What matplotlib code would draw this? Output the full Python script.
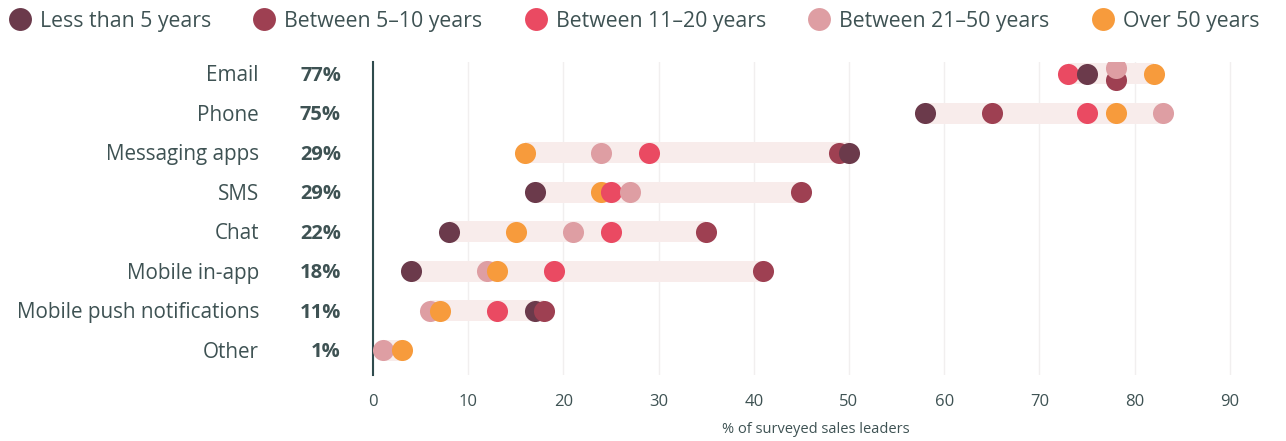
import matplotlib
matplotlib.use('Agg')
import matplotlib.pyplot as plt
import numpy as np
from matplotlib.lines import Line2D
from matplotlib.transforms import ScaledTranslation

# data
channels = ['Email', 'Phone', 'Messaging apps', 'SMS', 'Chat',
            'Mobile in-app', 'Mobile push notifications', 'Other']
overall = ['77%', '75%', '29%', '29%', '22%', '18%', '11%', '1%']
groups = ['Less than 5 years', 'Between 5\u201310 years', 'Between 11\u201320 years',
          'Between 21\u201350 years', 'Over 50 years']

less_5 = [75, 58, 50, 17, 8, 4, 17, np.nan]
btw_5_10 = [78, 65, 49, 45, 35, 41, 18, np.nan]
btw_11_20 = [73, 75, 29, 25, 25, 19, 13, np.nan]
btw_21_50 = [78, 83, 24, 27, 21, 12, 6, 1]
over_50 = [82, 78, 16, 24, 15, 13, 7, 3]

colors = ['#6B3A4B', '#9E4052', '#EA4A62', '#DE9EA3', '#F79B3C']
text_col = '#3E5253'

plt.rcParams['font.family'] = ['Open Sans', 'DejaVu Sans']

series = np.array([less_5, btw_5_10, btw_11_20, btw_21_50, over_50], dtype=float)
ypos = np.arange(len(channels))

fig = plt.figure(figsize=(12.86, 4.41), dpi=100)
ax_left = 373 / 1286
ax_w = 9.52 * 93 / 1286
ax_bottom = (441 - 375) / 441
ax_h = (375 - 62) / 441
ax = fig.add_axes([ax_left, ax_bottom, ax_w, ax_h])

# light band from min to max of each row
lo = np.nanmin(series, axis=0)
hi = np.nanmax(series, axis=0)
ax.barh(ypos, hi - lo, left=lo, height=0.53, color='#F8ECEB', zorder=1)

# dots, drawn in ascending order within each row
for i, y in enumerate(ypos):
    vals = series[:, i]
    order = [k for k in np.argsort(vals) if not np.isnan(vals[k])]
    seen = {}
    for z, k in enumerate(order):
        v = vals[k]
        dy = 0
        if v in seen:
            # identical values: nudge apart vertically
            dy = -0.15
            seen[v][0].set_offsets([[v, y + 0.15]])
        pts = ax.scatter([v], [y + dy], s=230, color=colors[k], zorder=3 + z,
                         linewidths=0)
        seen[v] = (pts, k)

ax.set_xlim(0, 93)
ax.set_ylim(7.63, -0.3)
ax.set_xticks(np.arange(0, 91, 10))
ax.set_yticks([])
ax.grid(axis='x', color='#F1EFEF', linewidth=1.0, zorder=0)
ax.set_axisbelow(True)
for s in ['top', 'right', 'bottom']:
    ax.spines[s].set_visible(False)
ax.spines['left'].set_color('#2F4B4D')
ax.spines['left'].set_linewidth(1.5)
ax.tick_params(axis='x', length=0, pad=14, labelsize=12, labelcolor=text_col)
ax.set_xlabel('% of surveyed sales leaders', fontsize=10.5, color=text_col, labelpad=8)

base = ax.get_yaxis_transform()
cat_tr = base + ScaledTranslation(-1.14, -0.02, fig.dpi_scale_trans)
pct_tr = base + ScaledTranslation(-0.32, -0.02, fig.dpi_scale_trans)
for y, name, pct in zip(ypos, channels, overall):
    ax.text(0, y, name, transform=cat_tr, ha='right', va='center',
            fontsize=14.9, color=text_col)
    ax.text(0, y, pct, transform=pct_tr, ha='right', va='center',
            fontsize=14.5, color=text_col, fontweight='bold')

handles = [Line2D([], [], marker='o', linestyle='', markersize=16.5,
                  markerfacecolor=c, markeredgewidth=0) for c in colors]
fig.legend(handles, groups, loc='upper left', bbox_to_anchor=(-0.003, 1.0),
           ncol=5, frameon=False, fontsize=15.3, labelcolor=text_col,
           handletextpad=0.35, columnspacing=1.9, borderaxespad=0.1,
           handlelength=1.2)

fig.savefig('out.png', dpi=100)
